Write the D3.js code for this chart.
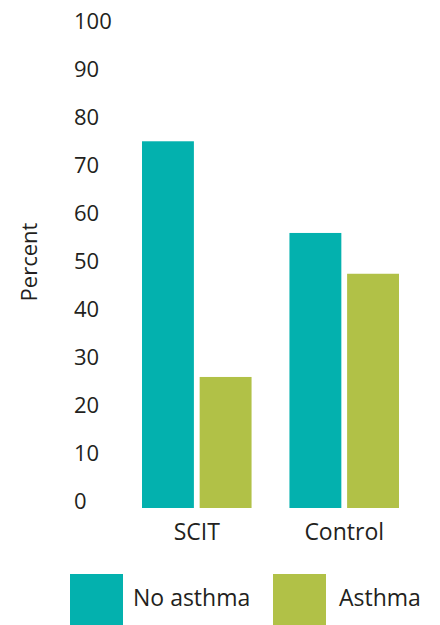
<!DOCTYPE html>
<html>
<head>
<meta charset="utf-8">
<script src="https://cdn.jsdelivr.net/npm/d3@7"></script>
<style>
  body { margin: 0; background: #fff; }
  text { font-family: "Open Sans", sans-serif; fill: #231f20; }
</style>
</head>
<body>
<div id="chart"></div>
<script>
// data
const categories = ["SCIT", "Control"];
const seriesNames = ["No asthma", "Asthma"];
const noAsthma = [76.4, 57.3];
const asthma = [27.3, 48.8];
const yTicks = [0, 10, 20, 30, 40, 50, 60, 70, 80, 90, 100];

const W = 440, H = 625;
const color = d3.scaleOrdinal().domain(seriesNames).range(["#03b1ae", "#b1c147"]);

const svg = d3.select("#chart").append("svg")
  .attr("width", W)
  .attr("height", H);

const y = d3.scaleLinear().domain([0, 100]).range([508, 28]);

const x0 = d3.scaleBand().domain(categories).range([142, 399])
  .paddingInner(0.257).paddingOuter(0);
const x1 = d3.scaleBand().domain(seriesNames).range([0, x0.bandwidth()])
  .paddingInner(0.1).paddingOuter(0);

// y tick labels (no axis line), left aligned
svg.append("g")
  .selectAll("text")
  .data(yTicks)
  .join("text")
  .attr("x", 74)
  .attr("y", d => y(d) - 7)
  .attr("dy", "0.35em")
  .style("font-size", "22px")
  .text(d => d);

// y title
svg.append("text")
  .attr("transform", `translate(37, 262) rotate(-90)`)
  .attr("text-anchor", "middle")
  .style("font-size", "22px")
  .text("Percent");

// bars
const rows = categories.map((c, i) => ({ cat: c, values: [noAsthma[i], asthma[i]] }));

const groups = svg.append("g")
  .selectAll("g")
  .data(rows)
  .join("g")
  .attr("transform", d => `translate(${x0(d.cat)},0)`);

groups.selectAll("rect")
  .data(d => d.values.map((v, j) => ({ key: seriesNames[j], value: v })))
  .join("rect")
  .attr("x", d => x1(d.key))
  .attr("y", d => y(d.value))
  .attr("width", x1.bandwidth())
  .attr("height", d => y(0) - y(d.value))
  .attr("fill", d => color(d.key));

// category labels
svg.append("g")
  .selectAll("text")
  .data(categories)
  .join("text")
  .attr("x", d => x0(d) + x0.bandwidth() / 2)
  .attr("y", 532)
  .attr("dy", "0.35em")
  .attr("text-anchor", "middle")
  .style("font-size", "23px")
  .text(d => d);

// legend
const legendX = [70, 273];
const legend = svg.append("g")
  .selectAll("g")
  .data(seriesNames)
  .join("g")
  .attr("transform", (d, i) => `translate(${legendX[i]}, 574)`);

legend.append("rect")
  .attr("width", 53)
  .attr("height", 53)
  .attr("fill", d => color(d));

legend.append("text")
  .attr("x", (d, i) => i === 0 ? 63 : 66)
  .attr("y", 24)
  .attr("dy", "0.35em")
  .style("font-size", "23px")
  .text(d => d);
</script>
</body>
</html>
